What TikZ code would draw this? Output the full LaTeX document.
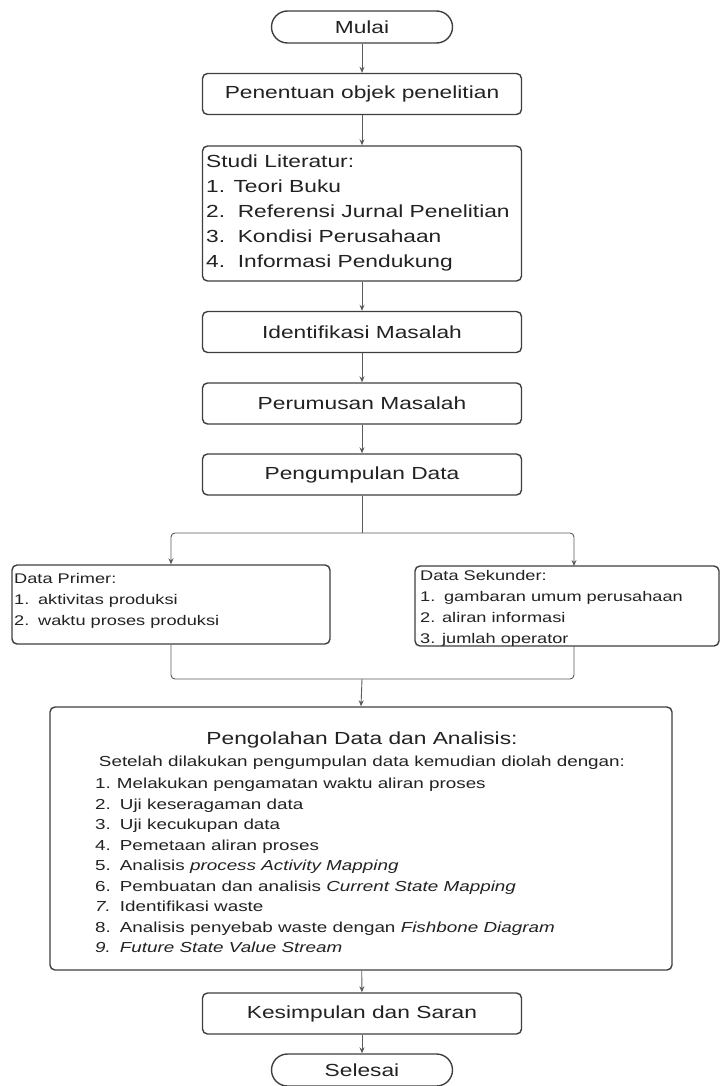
\documentclass[tikz,border=0pt]{standalone}
\usepackage{fontspec}
\setmainfont[FakeStretch=1.3]{Liberation Sans}
\usetikzlibrary{arrows.meta,calc}
\definecolor{edgec}{HTML}{3F3F3F}
\definecolor{connc}{HTML}{5A5A5A}
\definecolor{txtc}{HTML}{222222}
\begin{document}
\begin{tikzpicture}[x=1pt,y=-1pt,
  every node/.style={text=txtc},
  rbox/.style={draw=edgec, line width=1.4pt, rounded corners=5pt, fill=white, inner sep=0pt},
  mainbox/.style={rbox, minimum width=319pt, minimum height=41pt, font=\fontsize{17.5}{21}\selectfont},
  term/.style={rbox, rounded corners=16pt, minimum width=181pt, minimum height=32pt, font=\fontsize{17.5}{21}\selectfont},
  conn/.style={draw=connc, line width=0.9pt, rounded corners=4pt, -{Stealth[length=6pt,width=5pt]}},
  plain/.style={draw=connc, line width=0.9pt, rounded corners=4pt},
  listtxt/.style={anchor=north west, align=left, inner sep=0pt}
]
\useasboundingbox (0,0) rectangle (722,1086);

\node[term] (mulai) at (362,27) {Mulai};
\node[mainbox] (pen) at (362,94) {Penentuan objek penelitian};
\node[rbox, minimum width=319pt, minimum height=135pt] (studi) at (362,213.5) {};
\node[anchor=west, align=left, inner sep=0pt, font=\fontsize{17.5}{25}\selectfont] (studitxt) at (206,213)
  {Studi Literatur:\\1. Teori Buku\\2.\ \ Referensi Jurnal Penelitian\\3.\ \ Kondisi Perusahaan\\4.\ \ Informasi Pendukung};
\node[mainbox] (ident) at (362,332) {Identifikasi Masalah};
\node[mainbox] (perum) at (362,403.5) {Perumusan Masalah};
\node[mainbox] (kumpul) at (362,474.5) {Pengumpulan Data};

\node[rbox, minimum width=318pt, minimum height=79pt] (prim) at (171,604.5) {};
\node[listtxt, font=\fontsize{14}{21}\selectfont] (primtxt) at (14,573)
  {Data Primer:\\1.\hspace{2pt} aktivitas produksi\\2.\hspace{2pt} waktu proses produksi};
\node[rbox, minimum width=304pt, minimum height=80pt] (sek) at (567,606) {};
\node[listtxt, font=\fontsize{14}{21}\selectfont] (sektxt) at (420,570)
  {Data Sekunder:\\1.\hspace{2pt} gambaran umum perusahaan\\2. aliran informasi\\3. jumlah operator};

\node[rbox, minimum width=622pt, minimum height=263pt] (olah) at (361,838.5) {};
\node[font=\fontsize{17.5}{21}\selectfont] (olahtitle) at (362,740) {Pengolahan Data dan Analisis:};
\node[font=\fontsize{14.5}{20}\selectfont] (olahsub) at (362,763) {Setelah dilakukan pengumpulan data kemudian diolah dengan:};
\node[listtxt, font=\fontsize{14.5}{20.5}\selectfont] (olahlist) at (95,778)
  {1.\hspace{-1pt} Melakukan pengamatan waktu aliran proses\\
   2.\hspace{2pt} Uji keseragaman data\\
   3.\hspace{2pt} Uji kecukupan data\\
   4.\hspace{2pt} Pemetaan aliran proses\\
   5.\hspace{2pt} Analisis \textit{process Activity Mapping}\\
   6.\hspace{2pt} Pembuatan dan analisis \textit{Current State Mapping}\\
   \textit{7.}\hspace{2pt} Identifikasi waste\\
   8.\hspace{2pt} Analisis penyebab waste dengan \textit{Fishbone Diagram}\\
   \textit{9.\hspace{2pt} Future State Value Stream}};

\node[mainbox] (kes) at (362,1013.5) {Kesimpulan dan Saran};
\node[term] (sel) at (362,1070) {Selesai};

\draw[conn] (mulai) -- (pen);
\draw[conn] (pen) -- (studi);
\draw[conn] (studi) -- (ident);
\draw[conn] (ident) -- (perum);
\draw[conn] (perum) -- (kumpul);

\coordinate (split) at (362,533);
\coordinate (sekin) at (574,566);
\coordinate (sekout) at (574,646);
\coordinate (merge) at (362,679);
\draw[plain] (kumpul.south) -- (split);
\draw[conn] (split) -| (prim.north);
\draw[conn] (split) -| (sekin);
\draw[plain] (prim.south) |- (merge);
\draw[plain] (sekout) |- (merge);
\draw[conn] (merge) -- (olah.north);

\draw[conn] (olah) -- (kes);
\draw[conn] (kes) -- (sel);
\end{tikzpicture}
\end{document}
